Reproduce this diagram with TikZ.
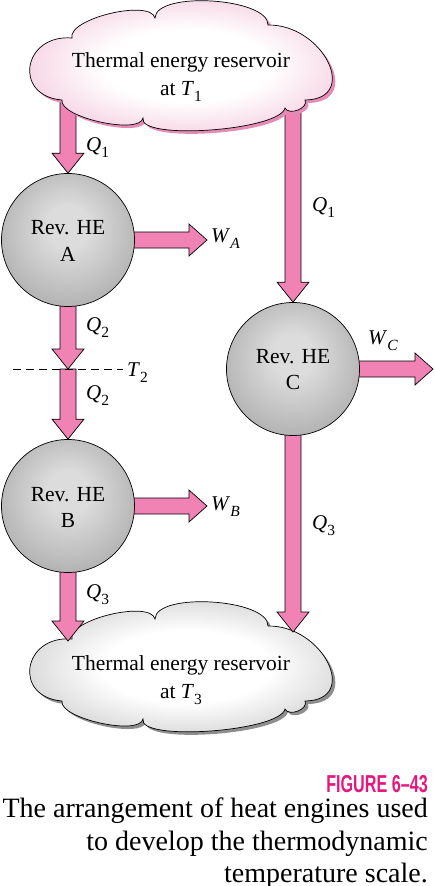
\documentclass[tikz,border=0pt]{standalone}
\usepackage{fontspec}
\setmainfont{Liberation Serif}
\newfontfamily\figfont[FakeStretch=0.66]{Liberation Sans}
\usetikzlibrary{calc}
\pgfdeclarelayer{bg}
\pgfdeclarelayer{arr}
\pgfsetlayers{bg,arr,main}
\definecolor{arrowpink}{HTML}{F082B4}
\definecolor{figpink}{HTML}{E4187D}
\definecolor{cloudrim}{HTML}{F0B6D1}
\definecolor{pinkshadow}{HTML}{E58CB6}
\definecolor{grayrim}{HTML}{BDBDBD}
\definecolor{grayshadow}{HTML}{8E8E8E}
\definecolor{spherein}{HTML}{DCDCDC}
\definecolor{sphereout}{HTML}{858585}
\pgfdeclareradialshading{spheregray}{\pgfpoint{0bp}{6bp}}{color(0bp)=(spherein); color(8bp)=(spherein); color(50bp)=(sphereout)}
\pgfdeclareradialshading{cloudpink}{\pgfpoint{0bp}{0bp}}{color(0bp)=(white); color(12bp)=(white); color(32bp)=(cloudrim); color(50bp)=(cloudrim)}
\pgfdeclareradialshading{cloudgray}{\pgfpoint{0bp}{0bp}}{color(0bp)=(white); color(12bp)=(white); color(32bp)=(grayrim); color(50bp)=(grayrim)}
\newcommand\lsub[1]{\raisebox{-0.3em}{\fontsize{15.5}{15.5}\selectfont #1}}
% cloud outline, in pixel coordinates (y downwards, used with yscale=-1)
\newcommand\cloudpath{(62,100)
  .. controls (12.7,96) and (22.7,34) .. (72,38)
  .. controls (67.3,18.7) and (150.3,-1.3) .. (155,18)
  .. controls (155.7,-9.3) and (268.7,-2.3) .. (268,25)
  .. controls (323.3,24.3) and (360.3,99.3) .. (305,100)
  .. controls (309,108) and (289,116) .. (285,108)
  .. controls (279.7,130.7) and (137.7,140.7) .. (143,118)
  .. controls (139.7,135.3) and (58.7,117.3) .. (62,100) -- cycle}
\tikzset{
  cloudline/.style={draw=black, line width=0.7pt, line join=miter},
  engine/.style={circle, minimum size=133pt, inner sep=0pt, draw=black, line width=0.7pt, shading=spheregray},
  txt/.style={font=\fontsize{21.5}{26}\selectfont, anchor=base, inner sep=0pt},
  lbl/.style={font=\fontsize{21}{25}\selectfont, anchor=base west, inner sep=0pt},
  fatdown/.style={draw=black, line width=0.7pt, fill=arrowpink, line join=miter,
    to path={let \p1=(\tikztostart), \p2=(\tikztotarget) in
      (\x1-8pt,\y1) -- (\x1-8pt,\y2+20pt) -- (\x1-16pt,\y2+20pt) -- (\x1,\y2)
      -- (\x1+16pt,\y2+20pt) -- (\x1+8pt,\y2+20pt) -- (\x1+8pt,\y1) -- cycle}},
  fatright/.style={draw=black, line width=0.7pt, fill=arrowpink, line join=miter,
    to path={let \p1=(\tikztostart), \p2=(\tikztotarget) in
      (\x1,\y1+8pt) -- (\x2-18pt,\y1+8pt) -- (\x2-18pt,\y1+16pt) -- (\x2,\y1)
      -- (\x2-18pt,\y1-16pt) -- (\x2-18pt,\y1-8pt) -- (\x1,\y1-8pt) -- cycle}},
  level/.style={draw=black, line width=0.7pt, dash pattern=on 8pt off 5pt}
}
\begin{document}
\begin{tikzpicture}[x=1pt,y=1pt]
\useasboundingbox (0,0) rectangle (434,-886);
% top reservoir
\begin{scope}[yscale=-1]
  \fill[pinkshadow, xshift=3pt, yshift=3pt] \cloudpath;
  \path[cloudline, shading=cloudpink] \cloudpath;
\end{scope}
\node[txt] (toptxt1) at (181,-67) {Thermal energy reservoir};
\node[txt] (toptxt2) at (181,-95) {at \textit{T}\lsub{1}};
% bottom reservoir
\begin{pgfonlayer}{bg}
\begin{scope}[shift={(0,-601)}, yscale=-1]
  \fill[grayshadow, xshift=3pt, yshift=3pt] \cloudpath;
  \path[cloudline, shading=cloudgray] \cloudpath;
\end{scope}
\end{pgfonlayer}
\node[txt] (bottxt1) at (181,-670) {Thermal energy reservoir};
\node[txt] (bottxt2) at (181,-698) {at \textit{T}\lsub{3}};
% engines
\node[engine] (A) at (68,-240) {};
\node[txt] (Atxt1) at (68,-234) {Rev. HE};
\node[txt] (Atxt2) at (68,-261) {A};
\node[engine] (B) at (68,-506) {};
\node[txt] (Btxt1) at (68,-501) {Rev. HE};
\node[txt] (Btxt2) at (68,-527) {B};
\node[engine] (C) at (293,-369) {};
\node[txt] (Ctxt1) at (293,-363) {Rev. HE};
\node[txt] (Ctxt2) at (293,-389) {C};
% coordinates
\coordinate (t2) at (68,-369);
\coordinate (dl) at (13,-369);
\coordinate (dr) at (123,-369);
\coordinate (wa) at (207,-240);
\coordinate (wb) at (207,-507);
\coordinate (wc) at (433,-369);
\coordinate (q3l) at (68,-641);
\coordinate (q3r) at (293,-632);
\coordinate (q1l) at (68,-66);
\coordinate (q1r) at (293,-66);
% arrows
\begin{pgfonlayer}{arr}
\path[fatdown] (q1l) to (A.north);
\path[fatright] (A.center) to (wa);
\path[fatdown] (A.center) to (t2);
\path[fatdown] (t2) to (B.north);
\path[fatright] (B.center) to (wb);
\path[fatdown] (B.center) to (q3l);
\path[fatdown] (q1r) to (C.north);
\path[fatright] (C.center) to (wc);
\path[fatdown] (C.center) to (q3r);
\end{pgfonlayer}
\draw[level] (dl) -- (dr);
% labels
\node[lbl] (lq1l) at (86,-151) {\textit{Q}\lsub{1}};
\node[lbl] (lq1r) at (312,-211) {\textit{Q}\lsub{1}};
\node[lbl] (lq2a) at (86,-331) {\textit{Q}\lsub{2}};
\node[lbl] (lq2b) at (86,-399) {\textit{Q}\lsub{2}};
\node[lbl] (lt2) at (127,-376) {\textit{T}\lsub{2}};
\node[lbl] (lwa) at (211,-242) {\textit{W}\lsub{\itshape A}};
\node[lbl] (lwb) at (211,-510) {\textit{W}\lsub{\itshape B}};
\node[lbl] (lwc) at (368,-344) {\textit{W}\lsub{\itshape C}};
\node[lbl] (lq3l) at (86,-598) {\textit{Q}\lsub{3}};
\node[lbl] (lq3r) at (312,-529) {\textit{Q}\lsub{3}};
% caption
\node[anchor=base east, inner sep=0pt, text=figpink, font=\figfont\bfseries\fontsize{24.5}{28}\selectfont] (fig) at (428,-792) {FIGURE 6–43};
\node[anchor=base east, inner sep=0pt, font=\fontsize{28}{34}\selectfont] (cap1) at (428,-817) {The arrangement of heat engines used};
\node[anchor=base east, inner sep=0pt, font=\fontsize{28}{34}\selectfont] (cap2) at (428,-850) {to develop the thermodynamic};
\node[anchor=base east, inner sep=0pt, font=\fontsize{28}{34}\selectfont] (cap3) at (428,-882) {temperature scale.};
\end{tikzpicture}
\end{document}
